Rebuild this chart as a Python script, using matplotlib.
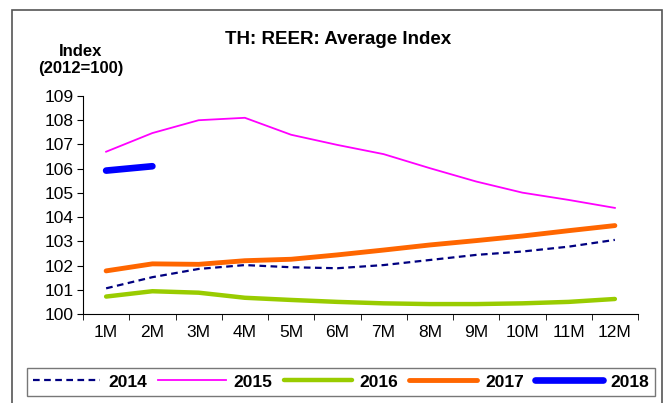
import numpy as np
import matplotlib.pyplot as plt
from matplotlib.patches import Rectangle

plt.rcParams['font.family'] = ['Liberation Sans', 'DejaVu Sans']

# Data
months = ['1M', '2M', '3M', '4M', '5M', '6M', '7M', '8M', '9M', '10M', '11M', '12M']
y2014 = [101.06, 101.52, 101.86, 102.02, 101.93, 101.89, 102.02, 102.23, 102.44, 102.58, 102.78, 103.06]
y2015 = [106.7, 107.47, 108.0, 108.1, 107.4, 106.98, 106.6, 106.02, 105.47, 105.01, 104.71, 104.38]
y2016 = [100.72, 100.94, 100.88, 100.67, 100.58, 100.5, 100.44, 100.41, 100.41, 100.44, 100.5, 100.62]
y2017 = [101.78, 102.07, 102.05, 102.2, 102.26, 102.44, 102.64, 102.85, 103.03, 103.22, 103.44, 103.65]
y2018 = [105.92, 106.1]

fig = plt.figure(figsize=(6.69, 4.03), dpi=100)
fig.patch.set_facecolor('white')
# outer frame
fig.patches.append(Rectangle((12 / 669, -0.01), 650 / 669, 1 - 10 / 403 + 0.01,
                             transform=fig.transFigure, fill=False,
                             edgecolor='#555555', linewidth=1.2))

ax = fig.add_axes([83 / 669, 1 - 314 / 403, 555 / 669, 218 / 403])
x = np.arange(len(months))

ax.plot(x, y2014, color='#000080', lw=1.6, ls=(0, (3, 2)), label='2014')
ax.plot(x, y2015, color='#ff00ff', lw=1.3, label='2015')
ax.plot(x, y2016, color='#99cc00', lw=3.2, label='2016', solid_capstyle='round')
ax.plot(x, y2017, color='#ff6600', lw=3.5, label='2017', solid_capstyle='round')
ax.plot(x[:len(y2018)], y2018, color='#0000ff', lw=4.8, label='2018', solid_capstyle='round')

ax.set_xlim(-0.5, len(months) - 0.5)
ax.set_ylim(100, 109)
ax.set_yticks(np.arange(100, 110, 1))
ax.set_xticks(x)
ax.set_xticklabels(months)
ax.set_xticks(np.arange(-0.5, len(months), 1), minor=True)
ax.tick_params(axis='x', which='major', length=0, pad=8, labelsize=12.5)
ax.tick_params(axis='x', which='minor', length=4, direction='out')
ax.tick_params(axis='y', length=4, direction='out', labelsize=12.5, pad=3)
for s in ['top', 'right']:
    ax.spines[s].set_visible(False)

fig.text(338 / 669, 1 - 40 / 403, 'TH: REER: Average Index', ha='center', va='center',
         fontsize=13.5, fontweight='bold')
fig.text(81 / 669, 1 - 60 / 403, 'Index\n(2012=100)', ha='center', va='center',
         fontsize=12, fontweight='bold', linespacing=1.25)

leg = fig.legend(loc='center', bbox_to_anchor=(341 / 669, 1 - 382 / 403), ncol=5,
                 frameon=True, fancybox=False, edgecolor='#555555',
                 prop={'weight': 'bold', 'size': 12.5}, handlelength=3.9,
                 columnspacing=0.65, handletextpad=0.45, borderpad=0.35)
leg.get_frame().set_linewidth(1.0)

fig.savefig('out.png', dpi=100, facecolor=fig.get_facecolor())
